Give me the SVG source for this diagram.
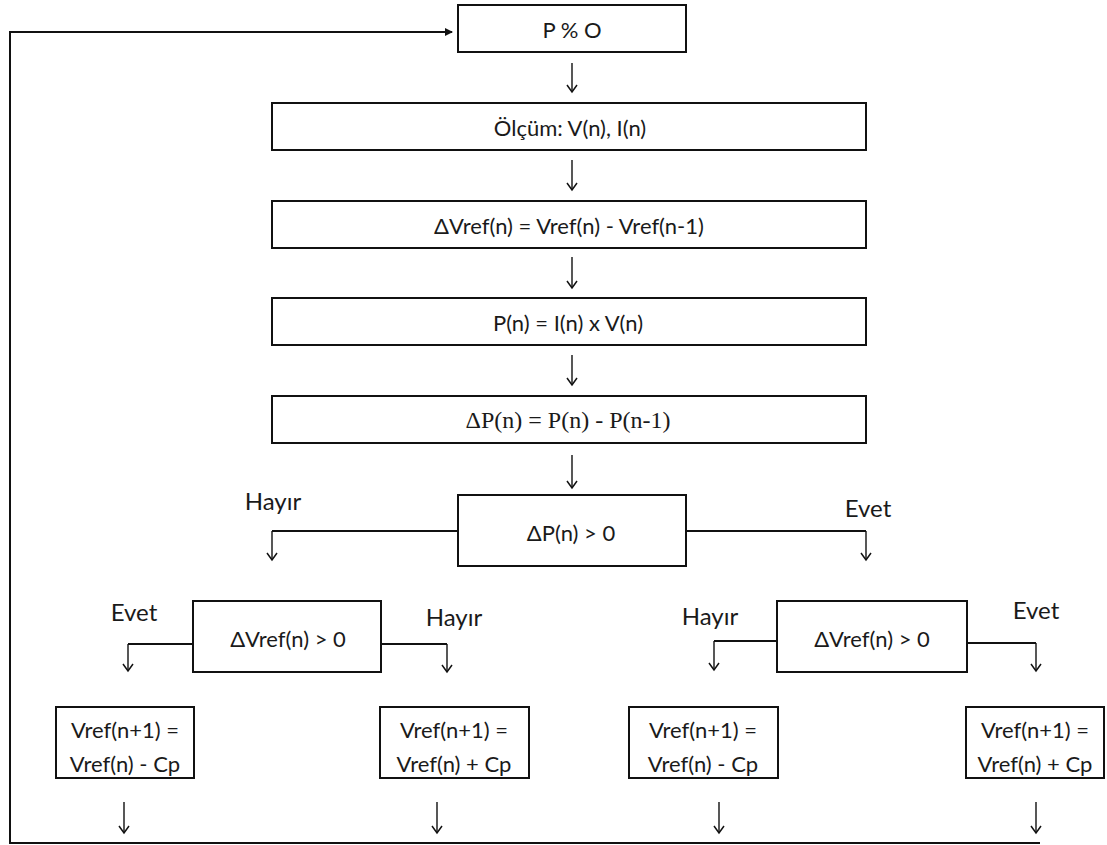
<svg xmlns="http://www.w3.org/2000/svg" width="1107" height="845" viewBox="0 0 1107 845">
  <defs>
    <marker id="head" markerWidth="12" markerHeight="12" refX="10" refY="6" orient="auto" markerUnits="userSpaceOnUse" viewBox="0 0 12 12">
      <path d="M3,1 L10,6 L3,11" fill="none" stroke="#111" stroke-width="1.5"/>
    </marker>
    <marker id="tip" markerWidth="8" markerHeight="8" refX="7" refY="4" orient="auto" markerUnits="userSpaceOnUse" viewBox="0 0 8 8">
      <path d="M0,0 L8,4 L0,8 Z" fill="#111"/>
    </marker>
  </defs>
  <style>
    .box { fill: #fff; stroke: #111; stroke-width: 2; }
    .wire { fill: none; stroke: #111; stroke-width: 2; }
    .arr { fill: none; stroke: #111; stroke-width: 1.4; marker-end: url(#head); }
    .t { font-family: Lato, "Liberation Sans", sans-serif; font-size: 22px; fill: #1a1a1a; text-anchor: middle; dominant-baseline: central; }
    .lbl { font-family: Lato, "Liberation Sans", sans-serif; font-size: 24px; fill: #1a1a1a; text-anchor: middle; dominant-baseline: central; }
    .serif { font-family: "Liberation Serif", serif; font-size: 24px; }
  </style>
  <rect width="1107" height="845" fill="#fff"/>

  <!-- connectors -->
  <g id="connectors">
    <path class="wire" d="M1040,843 L10,843 L10,32 L452,32" marker-end="url(#tip)"/>
    <line class="arr" x1="572" y1="63" x2="572" y2="92"/>
    <line class="arr" x1="572" y1="160" x2="572" y2="190"/>
    <line class="arr" x1="572" y1="257" x2="572" y2="288"/>
    <line class="arr" x1="572" y1="355" x2="572" y2="385"/>
    <line class="arr" x1="572" y1="455" x2="572" y2="488"/>
    <path class="wire" d="M458,531 L272,531"/>
    <line class="arr" x1="272" y1="531" x2="272" y2="560"/>
    <path class="wire" d="M686,531 L866,531"/>
    <line class="arr" x1="866" y1="531" x2="866" y2="560"/>
    <path class="wire" d="M193,644 L128,644"/>
    <line class="arr" x1="128" y1="644" x2="128" y2="671"/>
    <path class="wire" d="M381,644 L447,644"/>
    <line class="arr" x1="447" y1="644" x2="447" y2="672"/>
    <path class="wire" d="M777,641 L714,641"/>
    <line class="arr" x1="714" y1="641" x2="714" y2="670"/>
    <path class="wire" d="M967,643 L1036,643"/>
    <line class="arr" x1="1036" y1="643" x2="1036" y2="671"/>
    <line class="arr" x1="124" y1="802" x2="124" y2="833"/>
    <line class="arr" x1="437" y1="802" x2="437" y2="833"/>
    <line class="arr" x1="719" y1="802" x2="719" y2="833"/>
    <line class="arr" x1="1036" y1="802" x2="1036" y2="833"/>
  </g>

  <!-- branch labels -->
  <g id="labels">
    <text class="lbl" x="273" y="500">Hayır</text>
    <text class="lbl" x="868" y="507">Evet</text>
    <text class="lbl" x="134" y="611">Evet</text>
    <text class="lbl" x="454" y="616">Hayır</text>
    <text class="lbl" x="710" y="615">Hayır</text>
    <text class="lbl" x="1036" y="609">Evet</text>
  </g>

  <!-- process steps -->
  <g id="start">
    <rect class="box" x="458" y="5" width="228" height="47"/>
    <text class="t" x="572" y="29">P % O</text>
  </g>
  <g id="measure">
    <rect class="box" x="272" y="103" width="594" height="47"/>
    <text class="t" x="570" y="127">Ölçüm: V(n), I(n)</text>
  </g>
  <g id="delta-vref">
    <rect class="box" x="272" y="201" width="594" height="47"/>
    <text class="t" x="569" y="225">ΔVref(n) = Vref(n) - Vref(n-1)</text>
  </g>
  <g id="power">
    <rect class="box" x="272" y="298" width="594" height="47"/>
    <text class="t" x="568" y="322">P(n) = I(n) x V(n)</text>
  </g>
  <g id="delta-power">
    <rect class="box" x="272" y="396" width="594" height="47"/>
    <text class="t serif" x="568" y="420">ΔP(n) = P(n) - P(n-1)</text>
  </g>

  <!-- decisions -->
  <g id="dp-check">
    <rect class="box" x="458" y="495" width="228" height="71"/>
    <text class="t" x="571" y="532">ΔP(n) &gt; 0</text>
  </g>
  <g id="dv-check-left">
    <rect class="box" x="193" y="601" width="188" height="71"/>
    <text class="t" x="288" y="638">ΔVref(n) &gt; 0</text>
  </g>
  <g id="dv-check-right">
    <rect class="box" x="777" y="601" width="190" height="71"/>
    <text class="t" x="872" y="638">ΔVref(n) &gt; 0</text>
  </g>

  <!-- reference updates -->
  <g id="update-1">
    <rect class="box" x="56" y="707" width="138" height="71"/>
    <text class="t" x="125" y="729">Vref(n+1) =</text>
    <text class="t" x="125" y="763">Vref(n) - Cp</text>
  </g>
  <g id="update-2">
    <rect class="box" x="380" y="707" width="149" height="71"/>
    <text class="t" x="454" y="729">Vref(n+1) =</text>
    <text class="t" x="454" y="763">Vref(n) + Cp</text>
  </g>
  <g id="update-3">
    <rect class="box" x="629" y="707" width="149" height="71"/>
    <text class="t" x="703" y="729">Vref(n+1) =</text>
    <text class="t" x="703" y="763">Vref(n) - Cp</text>
  </g>
  <g id="update-4">
    <rect class="box" x="966" y="707" width="138" height="71"/>
    <text class="t" x="1035" y="729">Vref(n+1) =</text>
    <text class="t" x="1035" y="763">Vref(n) + Cp</text>
  </g>
</svg>
